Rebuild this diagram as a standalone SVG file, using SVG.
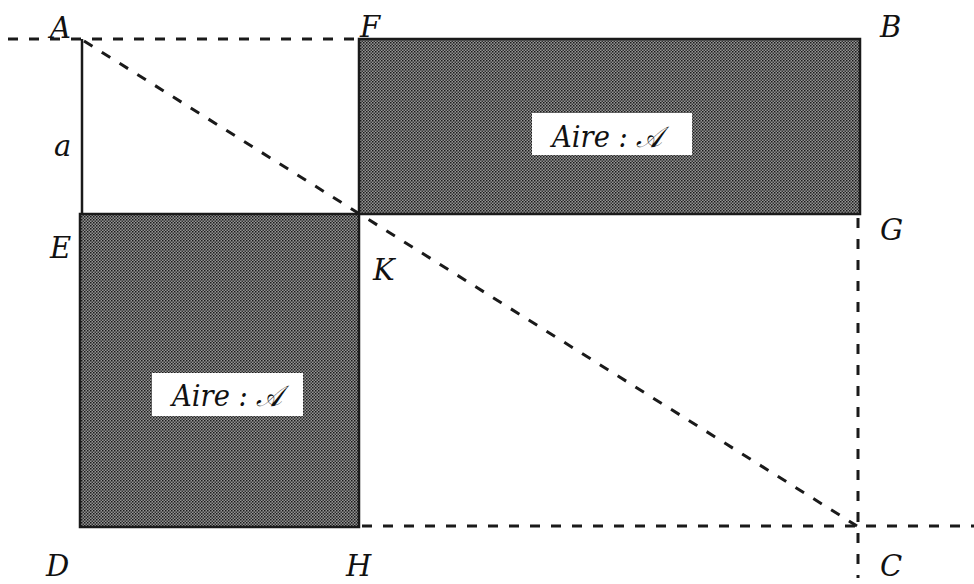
<svg xmlns="http://www.w3.org/2000/svg" width="974" height="584" viewBox="0 0 974 584">
<defs>
<pattern id="dots" width="3" height="3" patternUnits="userSpaceOnUse">
<rect width="3" height="3" fill="#959595"/>
<rect width="1.5" height="1.5" fill="#1a1a1a"/>
<rect x="1.5" y="1.5" width="1.5" height="1.5" fill="#333"/>
</pattern>
</defs>
<style>
.shade{fill:url(#dots);stroke:#1a1a1a;stroke-width:2.5}
.dash{fill:none;stroke:#1a1a1a;stroke-width:3;stroke-dasharray:10 11}
.solid{fill:none;stroke:#1a1a1a;stroke-width:2.5}
.lbl{font-family:"DejaVu Serif","Liberation Serif",serif;font-style:italic;font-size:29px;fill:#111}
.box{fill:#fff;stroke:none}
.aire{font-family:"DejaVu Serif","Liberation Serif",serif;font-style:italic;font-size:29px;fill:#111}
</style>
<g id="rect-FBGK">
<rect class="shade" x="359" y="39" width="501" height="175"/>
<rect class="box" x="532" y="113" width="160" height="42"/>
<text class="aire" x="552" y="147" textLength="110" lengthAdjust="spacingAndGlyphs">Aire : 𝒜</text>
</g>
<g id="rect-EKHD">
<rect class="shade" x="80" y="214" width="279" height="313"/>
<rect class="box" x="152" y="373" width="151" height="43"/>
<text class="aire" x="172" y="406" textLength="110" lengthAdjust="spacingAndGlyphs">Aire : 𝒜</text>
</g>
<g id="connectors">
<line class="dash" x1="8" y1="39" x2="359" y2="39"/>
<line class="solid" x1="82" y1="39" x2="82" y2="214"/>
<line class="dash" x1="84" y1="41" x2="857" y2="526"/>
<line class="dash" x1="858" y1="218" x2="858" y2="578"/>
<line class="dash" x1="362" y1="526" x2="974" y2="526"/>
</g>
<g id="labels">
<text class="lbl" x="50" y="38">A</text>
<text class="lbl" x="360" y="37">F</text>
<text class="lbl" x="880" y="37">B</text>
<text class="lbl" x="54" y="156">a</text>
<text class="lbl" x="50" y="258">E</text>
<text class="lbl" x="880" y="240">G</text>
<text class="lbl" x="373" y="280">K</text>
<text class="lbl" x="46" y="576">D</text>
<text class="lbl" x="346" y="576">H</text>
<text class="lbl" x="880" y="576">C</text>
</g>
</svg>
